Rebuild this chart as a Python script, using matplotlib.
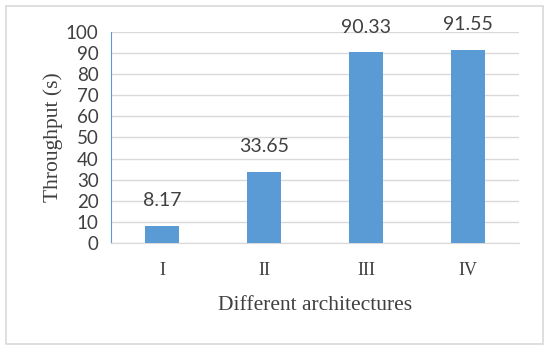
import matplotlib
matplotlib.use("Agg")
import matplotlib.pyplot as plt
from matplotlib.patches import Rectangle

# data
architectures = ["I", "II", "III", "IV"]
throughput = [8.17, 33.65, 90.33, 91.55]

BAR = "#5B9BD5"
GRID = "#D9D9D9"
TEXT = "#404040"

fig = plt.figure(figsize=(5.5, 3.5), dpi=100, facecolor="white")

# outer frame
fig.patches.append(Rectangle((0.011, 0.018), 0.976, 0.965, transform=fig.transFigure,
                             fill=False, edgecolor=GRID, linewidth=1.2))

ax = fig.add_axes([0.2018, 0.3057, 0.7418, 0.6029])
x = range(len(architectures))
bars = ax.bar(x, throughput, width=0.33, color=BAR, zorder=3)

for b, v in zip(bars, throughput):
    ax.annotate(f"{v:.2f}", (b.get_x() + b.get_width() / 2, v),
                xytext=(0, 12), textcoords="offset points",
                ha="center", va="bottom", fontsize=14, family="Lato", color=TEXT)

ax.set_xlim(-0.5, 3.5)
ax.set_ylim(0, 100)
ax.set_yticks(range(0, 101, 10))
ax.set_xticks(list(x))
ax.set_xticklabels(architectures, family="Liberation Serif", fontsize=13, color=TEXT)
for lbl in ax.get_yticklabels():
    lbl.set_family("Lato")
    lbl.set_fontsize(13.5)
    lbl.set_color(TEXT)

ax.yaxis.grid(True, color=GRID, linewidth=1, zorder=0)
ax.set_axisbelow(True)
ax.spines[["top", "right"]].set_visible(False)
ax.spines["left"].set_color(BAR)
ax.spines["bottom"].set_color(GRID)
ax.tick_params(length=0)
ax.tick_params(axis="y", pad=9)
ax.tick_params(axis="x", pad=14)

ax.set_xlabel("Different architectures", family="Liberation Serif", fontsize=15.5,
              color=TEXT, labelpad=12)
ax.set_ylabel("Throughput (s)", family="Liberation Serif", fontsize=15.5,
              color=TEXT, labelpad=2)

fig.savefig("out.png", dpi=100)
